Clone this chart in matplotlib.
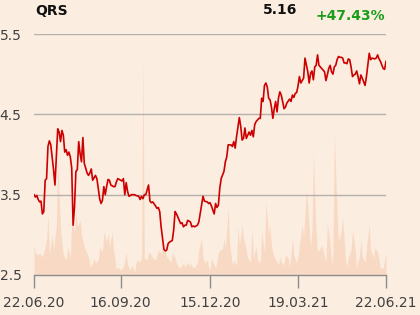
import matplotlib
matplotlib.use("Agg")
import matplotlib.pyplot as plt

BG = "#fcede1"
VOL_COLOR = "#f8dac4"
LINE_COLOR = "#cc0000"
GRID_COLOR = "#b4b0ac"

TICKER = "QRS"
LAST_PRICE = "5.16"
CHANGE = "+47.43%"

# trading-day index from 22.06.20
price_day = [
    0, 1, 2, 3, 4, 5, 6, 7, 8, 9, 10, 11, 12, 14, 15, 16, 17, 18, 19, 20,
    21, 22, 23, 24, 25, 26, 27, 28, 29, 30, 31, 32, 33, 34, 35, 36, 37, 38, 39, 40,
    41, 42, 44, 45, 46, 47, 48, 49, 50, 51, 52, 53, 54, 55, 57, 58, 59, 60, 62, 63,
    64, 65, 66, 67, 68, 70, 72, 73, 75, 76, 77, 78, 79, 80, 82, 83, 84, 85, 87, 88,
    89, 90, 91, 93, 94, 95, 96, 97, 99, 100, 101, 102, 103, 105, 106, 107, 108, 109, 110, 112,
    113, 114, 115, 117, 118, 120, 121, 122, 124, 125, 126, 127, 128, 129, 130, 131, 132, 133, 134, 136,
    137, 138, 139, 140, 141, 142, 143, 144, 145, 147, 148, 149, 150, 151, 152, 153, 154, 155, 156, 157,
    158, 159, 161, 162, 163, 164, 165, 166, 167, 168, 169, 170, 171, 172, 173, 174, 175, 176, 177, 178,
    179, 180, 181, 183, 184, 185, 186, 187, 188, 189, 190, 191, 193, 194, 196, 197, 198, 199, 200, 201,
    202, 203, 204, 205, 206, 208, 209, 210, 211, 212, 213, 214, 215, 216, 217, 218, 219, 220, 221, 222,
    223, 224, 225, 226, 227, 228, 229, 230, 231, 232, 233, 234, 235, 237, 238, 240, 241, 242, 244, 245,
    246, 247, 248, 250, 251, 252,
]
price = [
    3.50, 3.47, 3.49, 3.44, 3.41, 3.42, 3.26, 3.29, 3.68, 3.70, 4.10, 4.17, 4.12, 3.81, 3.62, 3.97, 4.32, 4.28, 4.16, 4.30,
    4.24, 4.03, 4.06, 3.99, 4.03, 3.97, 3.83, 3.12, 3.35, 3.79, 3.81, 4.16, 4.01, 3.91, 4.21, 3.89, 3.83, 3.77, 3.74, 3.77,
    3.82, 3.68, 3.74, 3.70, 3.58, 3.45, 3.39, 3.43, 3.60, 3.50, 3.60, 3.69, 3.68, 3.62, 3.60, 3.60, 3.66, 3.70, 3.68, 3.67,
    3.70, 3.50, 3.65, 3.54, 3.48, 3.50, 3.50, 3.49, 3.48, 3.44, 3.48, 3.45, 3.50, 3.50, 3.62, 3.42, 3.40, 3.41, 3.36, 3.33,
    3.34, 3.29, 3.10, 2.82, 2.80, 2.81, 2.89, 2.91, 2.93, 3.06, 3.29, 3.26, 3.22, 3.14, 3.15, 3.10, 3.12, 3.12, 3.18, 3.16,
    3.10, 3.11, 3.10, 3.12, 3.16, 3.37, 3.48, 3.42, 3.41, 3.39, 3.40, 3.36, 3.31, 3.26, 3.39, 3.34, 3.37, 3.58, 3.70, 3.79,
    3.91, 3.97, 4.12, 4.12, 4.12, 4.10, 4.16, 4.08, 4.22, 4.46, 4.35, 4.18, 4.20, 4.33, 4.20, 4.24, 4.28, 4.24, 4.30, 4.22,
    4.37, 4.41, 4.45, 4.45, 4.70, 4.66, 4.86, 4.89, 4.84, 4.70, 4.68, 4.59, 4.45, 4.57, 4.66, 4.53, 4.70, 4.78, 4.74, 4.66,
    4.57, 4.59, 4.64, 4.69, 4.66, 4.74, 4.71, 4.76, 4.77, 4.85, 4.97, 4.89, 4.95, 5.20, 5.03, 4.89, 5.01, 5.04, 4.93, 5.09,
    5.11, 5.24, 5.11, 5.09, 5.07, 5.03, 4.92, 4.99, 5.07, 5.11, 5.03, 5.00, 5.09, 5.11, 5.18, 5.22, 5.21, 5.21, 5.20, 5.14,
    5.14, 5.13, 5.19, 5.18, 5.09, 4.97, 4.99, 5.00, 5.04, 4.97, 4.88, 4.99, 4.95, 4.86, 4.97, 5.26, 5.18, 5.20, 5.19, 5.20,
    5.24, 5.19, 5.16, 5.07, 5.06, 5.16,
]

vol_day = [
    0, 1, 3, 4, 6, 7, 9, 10, 11, 13, 14, 16, 17, 19, 20, 21, 23, 24, 26, 27,
    29, 30, 31, 33, 34, 36, 37, 39, 40, 42, 43, 44, 46, 47, 49, 50, 52, 53, 54, 56,
    57, 59, 60, 62, 63, 64, 66, 67, 69, 70, 72, 73, 74, 76, 77, 78, 79, 81, 82, 84,
    85, 87, 88, 89, 91, 92, 94, 95, 97, 98, 99, 101, 102, 104, 105, 107, 108, 110, 111, 112,
    114, 115, 117, 118, 120, 121, 122, 124, 125, 126, 127, 129, 130, 132, 133, 135, 136, 137, 139, 140,
    142, 143, 145, 146, 147, 149, 150, 152, 153, 155, 156, 157, 159, 160, 162, 163, 165, 166, 168, 169,
    170, 172, 173, 175, 176, 178, 179, 180, 182, 183, 185, 186, 188, 189, 190, 192, 193, 195, 196, 198,
    199, 200, 202, 203, 205, 206, 208, 209, 210, 212, 213, 214, 215, 217, 218, 220, 221, 223, 224, 225,
    227, 228, 230, 231, 233, 234, 235, 237, 238, 240, 241, 243, 244, 246, 247, 248, 250, 251, 252,
]
vol_k = [
    30, 22, 20, 22, 18, 23, 35, 60, 22, 40, 25, 50, 113, 45, 32, 20, 15, 28, 18, 55,
    43, 62, 48, 55, 40, 28, 25, 18, 8, 12, 17, 12, 15, 28, 23, 43, 33, 42, 28, 43,
    25, 5, 8, 5, 7, 8, 23, 10, 5, 10, 3, 12, 15, 13, 18, 219, 17, 15, 23, 20,
    17, 15, 20, 25, 22, 27, 23, 18, 15, 12, 22, 17, 12, 7, 8, 12, 8, 13, 8, 12,
    7, 8, 12, 25, 37, 18, 12, 15, 8, 5, 17, 10, 7, 22, 25, 26, 37, 27, 67, 32,
    10, 15, 10, 50, 30, 50, 37, 25, 17, 13, 47, 18, 28, 15, 12, 43, 23, 73, 40, 50,
    28, 18, 15, 10, 18, 10, 12, 20, 17, 8, 37, 20, 12, 18, 30, 50, 38, 85, 68, 28,
    45, 122, 42, 23, 27, 30, 18, 13, 52, 32, 10, 20, 143, 62, 33, 45, 58, 15, 8, 18,
    25, 45, 25, 7, 20, 35, 18, 13, 28, 50, 25, 17, 27, 23, 15, 7, 7, 15, 22,
]

tick_day = [0, 62, 126, 189, 252]
tick_labels = ["22.06.20", "16.09.20", "15.12.20", "19.03.21", "22.06.21"]
y_ticks = [2.5, 3.5, 4.5, 5.5]

fig = plt.figure(figsize=(4.2, 3.15), dpi=100, facecolor=BG)
ax = fig.add_axes([34 / 420, 40 / 315, 352 / 420, 241 / 315])
ax_vol = ax.twinx()

ax_vol.fill_between(vol_day, 0, vol_k, color=VOL_COLOR, linewidth=0)
ax_vol.set_ylim(0, 241)
ax_vol.set_axis_off()
ax_vol.set_facecolor(BG)

ax.set_zorder(ax_vol.get_zorder() + 1)
ax.patch.set_visible(False)
ax.plot(price_day, price, color=LINE_COLOR, linewidth=1.2, zorder=3)

ax.set_xlim(0, 252)
ax.set_ylim(2.5, 5.5)
ax.set_yticks(y_ticks)
ax.set_yticklabels([f"{v:.1f}" for v in y_ticks])
ax.set_xticks(tick_day)
ax.set_xticklabels(tick_labels)
for v in y_ticks[1:]:
    ax.axhline(v, color=GRID_COLOR, linewidth=1.0, zorder=1)

for side in ("top", "right", "left"):
    ax.spines[side].set_visible(False)
    ax_vol.spines[side].set_visible(False)
ax.spines["bottom"].set_color("#8c8c8c")
ax.spines["bottom"].set_linewidth(1.0)
ax.tick_params(axis="x", length=9, width=1.0, color="#8c8c8c", pad=6,
               labelsize=10, labelcolor="#404040")
ax.tick_params(axis="y", length=0, pad=9, labelsize=10, labelcolor="#404040")

fig.text(35 / 420, 1 - 10.7 / 315, TICKER, fontsize=10, fontweight="bold",
         color="#111111", ha="left", va="center")
fig.text(297 / 420, 1 - 9.5 / 315, LAST_PRICE, fontsize=10, fontweight="bold",
         color="#111111", ha="right", va="center")
fig.text(385 / 420, 1 - 16 / 315, CHANGE, fontsize=10, fontweight="bold",
         color="#1a9e1a", ha="right", va="center")

fig.savefig("out.png", dpi=100, facecolor=BG)
